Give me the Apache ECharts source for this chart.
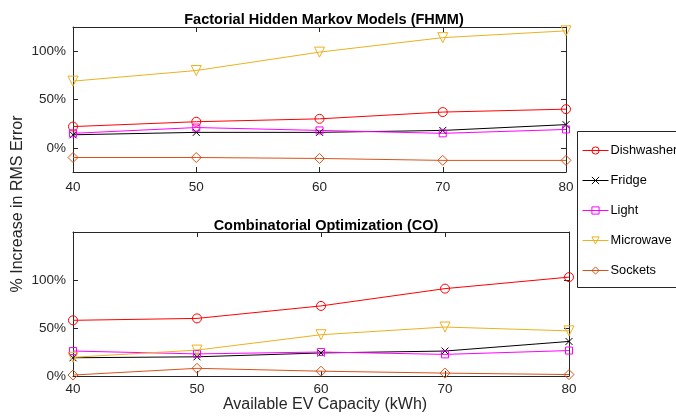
<!DOCTYPE html>
<html><head><meta charset="utf-8">
<script src="https://cdn.jsdelivr.net/npm/echarts@6/dist/echarts.min.js"></script>
<style>html,body{margin:0;padding:0;background:#fff}#c{width:676px;height:419px}</style>
</head><body><div id="c"></div>
<script>
const capacities = [40, 50, 60, 70, 80];
const seriesNames = ['Dishwasher', 'Fridge', 'Light', 'Microwave', 'Sockets'];
const fhmmDishwasher = [22, 27, 30, 37, 40];
const fhmmFridge = [13.5, 16, 16, 18, 24];
const fhmmLight = [15, 21, 18, 15, 19];
const fhmmMicrowave = [69, 80, 99, 114, 121];
const fhmmSockets = [-10, -10, -11, -13, -13];
const coDishwasher = [58, 60, 73, 91, 103];
const coFridge = [19, 20, 24, 26, 36];
const coLight = [26, 23, 25, 22.5, 26.5];
const coMicrowave = [19.5, 27, 43, 51, 47];
const coSockets = [1, 8, 5, 3, 1.5];
const yTicks = [0, 50, 100];
const titles = ['Factorial Hidden Markov Models (FHMM)', 'Combinatorial Optimization (CO)'];

const colors = ['#ff0000', '#000000', '#ff00ff', '#edb120', '#d95319'];
const symbols = ['circle', 'path://M0,0L10,10M10,0L0,10', 'rect', 'triangle', 'diamond'];
const symSizes = [9, 7, 7, 10, 10];
const symRot = [0, 0, 0, 180, 0];
const fhmm = [fhmmDishwasher, fhmmFridge, fhmmLight, fhmmMicrowave, fhmmSockets];
const co = [coDishwasher, coFridge, coLight, coMicrowave, coSockets];

const axisCol = '#262626';
const font = 'Liberation Sans, Arial, sans-serif';
const grids = [
  {left: 73, top: 27, width: 493, height: 145, show: false},
  {left: 73, top: 232, width: 496, height: 144, show: false}
];
const yr = [[-25, 125], [0, 150]];
const xMargins = [8, 6];
const xAxes = [], yAxes = [];
[0, 1].forEach(g => {
  ['bottom', 'top'].forEach((pos, k) => {
    xAxes.push({type: 'value', gridIndex: g, position: pos, min: 40, max: 80, interval: 10,
      axisLine: {show: true, onZero: false, lineStyle: {color: axisCol, width: 1}},
      axisTick: {show: true, inside: true, length: 5, lineStyle: {color: axisCol}},
      axisLabel: {show: k === 0, color: axisCol, fontFamily: font, fontSize: 13.5, margin: xMargins[g]},
      splitLine: {show: false}});
  });
  ['left', 'right'].forEach((pos, k) => {
    yAxes.push({type: 'value', gridIndex: g, position: pos, min: yr[g][0], max: yr[g][1],
      axisLine: {show: true, onZero: false, lineStyle: {color: axisCol, width: 1}},
      axisTick: {show: true, inside: true, length: 5, customValues: yTicks, lineStyle: {color: axisCol}},
      axisLabel: {show: k === 0, customValues: yTicks, color: axisCol, fontFamily: font, fontSize: 13.5, margin: 7,
        formatter: v => v + '%'},
      splitLine: {show: false}});
  });
});

const series = [];
[fhmm, co].forEach((set, g) => {
  set.forEach((vals, i) => {
    series.push({
      name: seriesNames[i], type: 'line', xAxisIndex: g * 2, yAxisIndex: g * 2,
      data: capacities.map((c, j) => [c, vals[j]]),
      symbol: symbols[i], symbolSize: symSizes[i], symbolRotate: symRot[i],
      showAllSymbol: true,
      lineStyle: {color: colors[i], width: 1},
      itemStyle: {color: 'rgba(0,0,0,0)', borderColor: colors[i], borderWidth: 1},
      emphasis: {disabled: true}, animation: false, z: 3
    });
  });
});

const chart = echarts.init(document.getElementById('c'), null, {renderer: 'canvas'});
chart.setOption({
  animation: false,
  backgroundColor: '#fff',
  title: [
    {text: titles[0], left: 319, top: 7, textAlign: 'center',
      textStyle: {fontFamily: font, fontSize: 14.5, fontWeight: 'bold', color: '#000'}},
    {text: titles[1], left: 321, top: 213, textAlign: 'center',
      textStyle: {fontFamily: font, fontSize: 14.5, fontWeight: 'bold', color: '#000'}}
  ],
  grid: grids,
  xAxis: xAxes,
  yAxis: yAxes,
  legend: {
    data: seriesNames, orient: 'vertical', left: 577, top: 131,
    itemWidth: 26, itemHeight: 9, itemGap: 17,
    padding: [13, 10, 11, 5],
    borderWidth: 0, backgroundColor: 'rgba(0,0,0,0)',
    lineStyle: {width: 1},
    itemStyle: {borderWidth: 1, color: 'rgba(0,0,0,0)'},
    textStyle: {fontFamily: font, fontSize: 12.8, color: '#000', padding: [0, 0, 0, -3]}
  },
  graphic: [
    {type: 'rect', z: 1, shape: {x: 577.5, y: 131.5, width: 140, height: 156},
      style: {fill: '#fff', stroke: axisCol, lineWidth: 1}},
    {type: 'text', x: 18, y: 204, rotation: Math.PI / 2,
      style: {text: '% Increase in RMS Error', font: '16px ' + font, fill: axisCol, align: 'center', verticalAlign: 'middle'}},
    {type: 'text', x: 325, y: 405,
      style: {text: 'Available EV Capacity (kWh)', font: '16px ' + font, fill: axisCol, align: 'center', verticalAlign: 'middle'}}
  ],
  series: series
});
</script></body></html>
